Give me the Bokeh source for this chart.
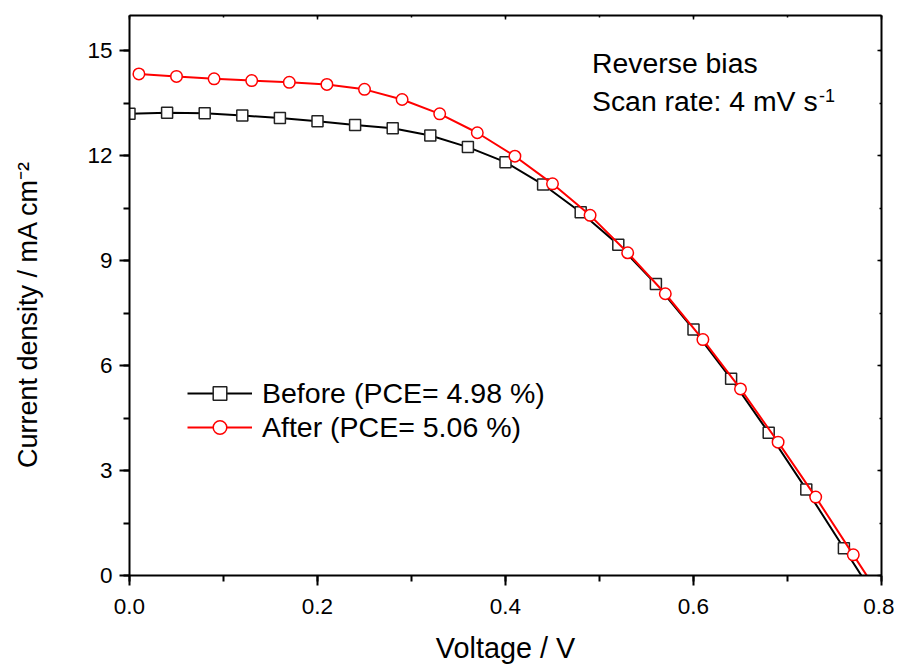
import math
from bokeh.plotting import figure
from bokeh.models import (Range1d, LinearAxis, SingleIntervalTicker, PrintfTickFormatter,
                          CustomJSTickFormatter, Legend, LegendItem, Label)
from bokeh.embed import file_html
from bokeh.resources import INLINE

# ---- data ----
voltage_before = [0.00, 0.04, 0.08, 0.12, 0.16, 0.20, 0.24, 0.28, 0.32, 0.36,
                  0.40, 0.44, 0.48, 0.52, 0.56, 0.60, 0.64, 0.68, 0.72, 0.76, 0.80]
current_before = [13.19, 13.22, 13.21, 13.14, 13.07, 12.98, 12.87, 12.78, 12.57, 12.24,
                  11.81, 11.17, 10.38, 9.45, 8.33, 7.03, 5.62, 4.08, 2.46, 0.78, -0.90]

voltage_after = [0.01, 0.05, 0.09, 0.13, 0.17, 0.21, 0.25, 0.29, 0.33, 0.37,
                 0.41, 0.45, 0.49, 0.53, 0.57, 0.61, 0.65, 0.69, 0.73, 0.77, 0.81]
current_after = [14.33, 14.26, 14.19, 14.14, 14.09, 14.03, 13.89, 13.60, 13.19, 12.65,
                 11.98, 11.19, 10.29, 9.22, 8.05, 6.74, 5.33, 3.81, 2.24, 0.59, -1.06]

label_before = "Before (PCE= 4.98 %)"
label_after = "After (PCE= 5.06 %)"
x_title = "Voltage / V"
y_title = "Current density / mA cm\u207b\u00b2"
note_1 = "Reverse bias"
note_2 = "Scan rate: 4 mV s"
note_2_sup = "-1"

FONT = "Liberation Sans"

p = figure(width=894, height=667,
           x_range=Range1d(0, 0.8), y_range=Range1d(0, 16),
           output_backend="svg", toolbar_location=None,
           min_border_left=129, min_border_right=13,
           min_border_top=15, min_border_bottom=92)
p.xgrid.visible = False
p.ygrid.visible = False
p.outline_line_color = None
p.background_fill_color = "white"
p.border_fill_color = "white"

# bottom axis
xa = p.xaxis[0]
xa.ticker = SingleIntervalTicker(interval=0.2, num_minor_ticks=2)
xa.formatter = PrintfTickFormatter(format="%.1f")
xa.axis_line_width = 2
xa.major_tick_line_width = 2
xa.minor_tick_line_width = 2
xa.major_tick_out = 10
xa.major_tick_in = 0
xa.minor_tick_out = 6
xa.minor_tick_in = 0
xa.major_label_standoff = 13
xa.major_label_text_font = FONT
xa.major_label_text_font_size = "22.5px"
xa.major_label_text_color = "black"
xa.axis_label = x_title
xa.axis_label_text_font = FONT
xa.axis_label_text_font_size = "28.8px"
xa.axis_label_text_font_style = "normal"
xa.axis_label_text_color = "black"
xa.axis_label_standoff = 15

# left axis
ya = p.yaxis[0]
ya.ticker = SingleIntervalTicker(interval=3, num_minor_ticks=2)
ya.formatter = PrintfTickFormatter(format="%d")
ya.axis_line_width = 2
ya.major_tick_line_width = 2
ya.minor_tick_line_width = 2
ya.major_tick_out = 10
ya.major_tick_in = 0
ya.minor_tick_out = 6
ya.minor_tick_in = 0
ya.major_label_standoff = 7
ya.major_label_text_font = FONT
ya.major_label_text_font_size = "22.5px"
ya.major_label_text_color = "black"
ya.axis_label = y_title + "\u00a0" * 5
ya.axis_label_text_font = FONT
ya.axis_label_text_font_size = "27px"
ya.axis_label_text_font_style = "normal"
ya.axis_label_text_color = "black"
ya.axis_label_standoff = 41

# mirrored axes (top / right) with inward ticks, no labels
empty = CustomJSTickFormatter(code="return ''")
right = LinearAxis(ticker=SingleIntervalTicker(interval=3, num_minor_ticks=2),
                   formatter=empty, axis_line_width=2,
                   major_tick_in=4, major_tick_out=0, minor_tick_in=2, minor_tick_out=0,
                   major_tick_line_width=1.5, minor_tick_line_width=1.5,
                   major_label_standoff=0, major_label_text_font_size="0px")
top = LinearAxis(ticker=SingleIntervalTicker(interval=0.2, num_minor_ticks=2),
                 formatter=empty, axis_line_width=2,
                 major_tick_in=4, major_tick_out=0, minor_tick_in=2, minor_tick_out=0,
                 major_tick_line_width=1.5, minor_tick_line_width=1.5,
                 major_label_standoff=0, major_label_text_font_size="0px")
p.add_layout(right, "right")
p.add_layout(top, "above")

# data
lb = p.line(voltage_before, current_before, line_color="black", line_width=2)
sb = p.scatter(voltage_before, current_before, marker="square", size=11,
               fill_color="white", line_color="#222222", line_width=1.5)
la = p.line(voltage_after, current_after, line_color="#ff0000", line_width=2)
sa = p.scatter(voltage_after, current_after, marker="circle", size=11.5,
               fill_color="white", line_color="#ff0000", line_width=1.5)

legend = Legend(items=[LegendItem(label=label_before, renderers=[lb, sb]),
                       LegendItem(label=label_after, renderers=[la, sa])],
                location=(58, 131), orientation="vertical",
                glyph_width=65, glyph_height=34, label_height=34, spacing=0,
                padding=0, margin=0, label_standoff=10,
                label_text_font=FONT, label_text_font_size="28.5px",
                label_text_color="black",
                background_fill_alpha=0, border_line_color=None)
p.add_layout(legend, "center")

# annotations
p.add_layout(Label(x=0.492, y=14.65, text=note_1, text_font=FONT,
                   text_font_size="28.4px", text_baseline="alphabetic",
                   text_align="left", text_color="black"))
p.add_layout(Label(x=0.492, y=13.55, text=note_2, text_font=FONT,
                   text_font_size="28.4px", text_baseline="alphabetic",
                   text_align="left", text_color="black"))
p.add_layout(Label(x=0.7334, y=13.71, text=note_2_sup, text_font=FONT,
                   text_font_size="18px", text_baseline="alphabetic",
                   text_align="left", text_color="black"))

open("out.html", "w").write(file_html(p, INLINE))
